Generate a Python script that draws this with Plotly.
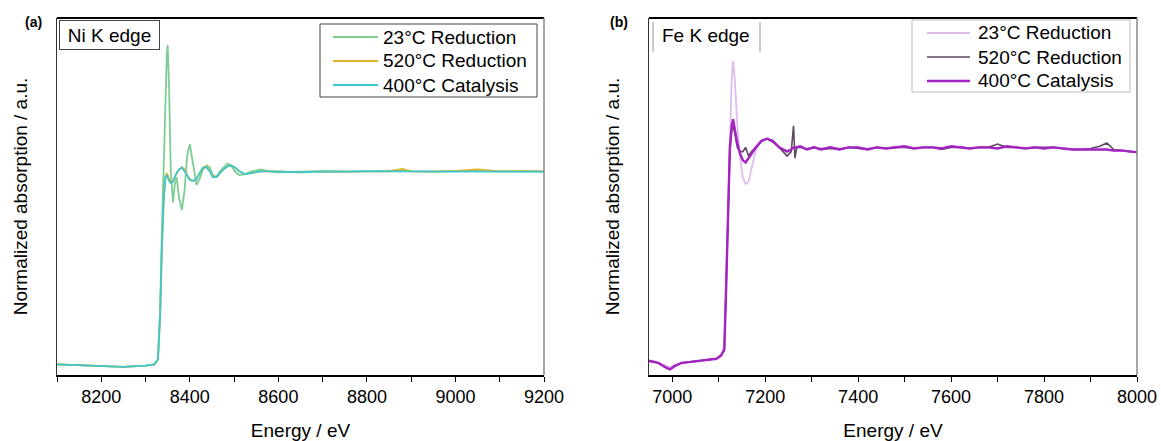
import plotly.graph_objects as go

# ---------------- Data ----------------
ni_energy = [8100, 8150, 8200, 8250, 8300, 8320, 8328, 8333, 8337, 8341, 8345, 8348, 8350,
             8353, 8357, 8362, 8366, 8370, 8376, 8382, 8388, 8394, 8400, 8407, 8415, 8422,
             8430, 8438, 8445, 8452, 8460, 8468, 8476, 8485, 8493, 8502, 8512, 8525, 8540,
             8560, 8580, 8600, 8650, 8700, 8750, 8800, 8850, 8880, 8900, 8950, 9000, 9050,
             9100, 9150, 9200]
ni_23 = [0.005, 0.0, -0.005, -0.008, -0.002, 0.005, 0.03, 0.3, 0.7, 1.05, 1.4, 1.6, 1.65,
         1.45, 1.0, 0.84, 0.93, 0.97, 0.86, 0.80, 0.90, 1.08, 1.14, 1.05, 0.93, 0.96,
         1.01, 1.03, 1.02, 0.98, 0.97, 1.0, 1.02, 1.04, 1.03, 1.0, 0.98, 0.985, 1.0,
         1.01, 1.0, 0.995, 0.998, 1.0, 0.998, 1.0, 1.0, 1.004, 1.0, 0.998, 1.0, 1.004,
         1.0, 1.0, 0.998]
ni_520 = [0.005, 0.0, -0.005, -0.008, -0.002, 0.005, 0.03, 0.25, 0.6, 0.85, 0.97, 0.99, 0.98,
          0.96, 0.95, 0.95, 0.97, 0.99, 1.01, 1.02, 1.01, 0.98, 0.96, 0.95, 0.96, 0.99,
          1.02, 1.025, 1.0, 0.975, 0.97, 0.99, 1.01, 1.025, 1.03, 1.02, 1.0, 0.985, 0.99,
          1.0, 1.0, 1.0, 0.995, 1.0, 0.998, 1.0, 1.0, 1.012, 1.0, 0.998, 1.002, 1.01,
          1.0, 1.002, 1.0]
ni_400 = [0.005, 0.0, -0.005, -0.008, -0.002, 0.005, 0.03, 0.26, 0.62, 0.86, 0.97, 0.98, 0.97,
          0.95, 0.94, 0.945, 0.97, 0.99, 1.01, 1.02, 1.0, 0.975, 0.955, 0.95, 0.96, 0.99,
          1.02, 1.02, 1.0, 0.97, 0.97, 0.99, 1.01, 1.025, 1.03, 1.02, 1.0, 0.985, 0.99,
          1.0, 1.0, 0.998, 0.995, 1.0, 0.998, 1.0, 1.0, 1.0, 1.0, 0.998, 1.0, 1.0,
          1.0, 1.0, 0.998]

fe_energy = [6950, 6970, 6985, 6995, 7005, 7020, 7040, 7060, 7080, 7095, 7105, 7112, 7116,
             7120, 7124, 7128, 7131, 7135, 7140, 7146, 7152, 7158, 7164, 7170, 7180, 7192,
             7204, 7216, 7230, 7247, 7256, 7261, 7264, 7268, 7275, 7290, 7305, 7320, 7340,
             7360, 7380, 7400, 7420, 7440, 7460, 7480, 7500, 7520, 7540, 7560, 7580, 7600,
             7620, 7640, 7660, 7680, 7700, 7720, 7740, 7760, 7780, 7800, 7820, 7840, 7860,
             7880, 7900, 7920, 7935, 7950, 7970, 7985, 8000]
fe_23 = [0.005, 0.0, -0.01, -0.02, -0.01, 0.0, 0.005, 0.01, 0.012, 0.015, 0.03, 0.08, 0.4,
         0.8, 1.1, 1.33, 1.40, 1.3, 1.1, 0.95, 0.86, 0.83, 0.84, 0.9, 0.99, 1.03,
         1.04, 1.03, 1.0, 0.985, 0.99, 1.0, 1.0, 1.0, 1.005, 0.995, 1.0, 0.995, 1.0,
         0.995, 1.0, 1.0, 0.995, 1.0, 0.997, 1.0, 1.002, 0.997, 1.0, 1.0, 0.998, 1.002,
         1.0, 0.997, 1.0, 1.0, 0.998, 1.002, 1.0, 0.997, 1.0, 0.998, 1.0, 0.996, 0.995,
         0.99, 0.99, 0.99, 0.99, 0.985, 0.985, 0.98, 0.978]
fe_520 = [0.01, 0.0, -0.02, -0.03, -0.015, 0.0, 0.005, 0.01, 0.015, 0.02, 0.035, 0.06, 0.35,
          0.74, 0.98, 1.08, 1.1, 1.06, 1.0, 0.98, 0.98, 1.0, 0.96, 0.98, 1.0, 1.03,
          1.04, 1.025, 1.0, 0.96, 0.98, 1.1, 0.95, 1.0, 1.0, 0.99, 1.0, 0.99, 0.995,
          0.99, 1.0, 0.995, 0.99, 1.0, 0.995, 1.0, 1.0, 0.995, 1.0, 1.0, 0.99, 1.0,
          1.0, 0.995, 1.0, 1.0, 1.015, 1.0, 1.0, 0.995, 1.0, 1.0, 1.0, 0.995, 0.99,
          0.99, 0.995, 1.005, 1.02, 0.99, 0.985, 0.98, 0.978]
fe_400 = [0.01, 0.0, -0.02, -0.03, -0.015, 0.0, 0.005, 0.01, 0.015, 0.02, 0.035, 0.06, 0.35,
          0.75, 1.0, 1.1, 1.13, 1.08, 1.02, 0.97, 0.94, 0.93, 0.95, 0.97, 1.0, 1.03,
          1.04, 1.03, 1.0, 0.98, 0.99, 1.0, 1.0, 1.0, 1.005, 0.99, 1.0, 0.99, 1.0,
          0.99, 1.0, 1.0, 0.99, 1.0, 0.995, 1.0, 1.005, 0.995, 1.0, 1.0, 0.995, 1.005,
          1.0, 0.995, 1.0, 1.0, 0.995, 1.005, 1.0, 0.995, 1.0, 0.995, 1.0, 0.995, 0.99,
          0.99, 0.99, 0.99, 0.99, 0.985, 0.985, 0.98, 0.978]

series_names = ["23°C Reduction", "520°C Reduction", "400°C Catalysis"]
ni_colors = ["rgb(125,205,145)", "rgb(225,180,40)", "rgb(60,200,210)"]
fe_colors = ["rgb(222,188,238)", "rgb(95,72,100)", "rgb(165,35,195)"]
ni_widths = [1.8, 1.8, 1.8]
fe_widths = [1.8, 1.6, 2.4]

W, H = 1161, 441
FONT = "Liberation Sans, Arial, sans-serif"

def px_x(p):
    return p / W

def px_y(p):
    return (H - p) / H

fig = go.Figure()

for name, ys, col, w in zip(series_names, [ni_23, ni_520, ni_400], ni_colors, ni_widths):
    fig.add_trace(go.Scatter(x=ni_energy, y=ys, mode="lines", name=name, showlegend=False,
                             line=dict(color=col, width=w), xaxis="x", yaxis="y"))
for name, ys, col, w in zip(series_names, [fe_23, fe_520, fe_400], fe_colors, fe_widths):
    fig.add_trace(go.Scatter(x=fe_energy, y=ys, mode="lines", name=name, showlegend=False,
                             line=dict(color=col, width=w), xaxis="x2", yaxis="y2"))

ydom = [px_y(375), px_y(18)]

xcommon = dict(showline=True, linecolor="black", linewidth=1.5, ticks="outside",
               ticklen=5, tickcolor="black", showgrid=False, zeroline=False,
               tickfont=dict(family=FONT, size=18, color="black"),
               title_font=dict(family=FONT, size=19, color="black"),
               automargin=False)
ycommon = dict(showline=True, linecolor="#333", linewidth=1.2, showticklabels=False,
               ticks="", showgrid=False, zeroline=False, automargin=False,
               title_font=dict(family=FONT, size=19, color="black"))

fig.update_layout(
    width=W, height=H,
    margin=dict(l=0, r=0, t=0, b=0),
    paper_bgcolor="white", plot_bgcolor="white",
    font=dict(family=FONT, color="black"),
    showlegend=False,
    xaxis=dict(domain=[px_x(57), px_x(544)], range=[8100, 9200], tick0=8200, dtick=200,
               minor=dict(dtick=100, tick0=8100, ticks="outside", ticklen=5, tickcolor="black"),
               title=dict(text="Energy / eV", standoff=17), anchor="y", **xcommon),
    yaxis=dict(domain=ydom, range=[-0.05, 1.79], anchor="x",
               title=dict(text="Normalized absorption / a.u.", standoff=23), **ycommon),
    xaxis2=dict(domain=[px_x(649), px_x(1137)], range=[6950, 8000], tick0=7000, dtick=200,
                minor=dict(dtick=100, tick0=7000, ticks="outside", ticklen=5, tickcolor="black"),
                title=dict(text="Energy / eV", standoff=17), anchor="y2", **xcommon),
    yaxis2=dict(domain=ydom, range=[-0.056, 1.60], anchor="x2",
                title=dict(text="Normalized absorption / a.u.", standoff=23), **ycommon),
)

# frame: thick top, grey right
for xr, yr in [("x domain", "y domain"), ("x2 domain", "y2 domain")]:
    fig.add_shape(type="line", xref=xr, yref=yr, x0=0, x1=1, y0=1, y1=1,
                  line=dict(color="black", width=2.2))
    fig.add_shape(type="line", xref=xr, yref=yr, x0=1, x1=1, y0=0, y1=1,
                  line=dict(color="#888", width=1.5))

# legends (box, sample lines, text) built from the series lists
legend_specs = [
    dict(box=(320, 24, 537, 97), line=(333, 378), text_x=381, rows=[37, 61, 85],
         colors=ni_colors, widths=ni_widths, border="#444"),
    dict(box=(912, 20, 1130, 92), line=(927, 970), text_x=976, rows=[33, 57, 81],
         colors=fe_colors, widths=fe_widths, border="#bbb"),
]
for spec in legend_specs:
    x0, y0, x1, y1 = spec["box"]
    fig.add_shape(type="rect", xref="paper", yref="paper", x0=px_x(x0), x1=px_x(x1),
                  y0=px_y(y1), y1=px_y(y0), line=dict(color=spec["border"], width=1),
                  fillcolor="white", layer="above")
    for name, col, w, ry in zip(series_names, spec["colors"], spec["widths"], spec["rows"]):
        fig.add_shape(type="line", xref="paper", yref="paper", x0=px_x(spec["line"][0]),
                      x1=px_x(spec["line"][1]), y0=px_y(ry), y1=px_y(ry),
                      line=dict(color=col, width=w), layer="above")
        fig.add_annotation(xref="paper", yref="paper", x=px_x(spec["text_x"]), y=px_y(ry),
                           xanchor="left", yanchor="middle", text=name, showarrow=False,
                           font=dict(family=FONT, size=19, color="black"))

# Fe K edge label side lines
for xp in [653, 760]:
    fig.add_shape(type="line", xref="paper", yref="paper", x0=px_x(xp), x1=px_x(xp),
                  y0=px_y(52), y1=px_y(22), line=dict(color="#999", width=1))

fig.add_annotation(xref="paper", yref="paper", x=px_x(59), y=px_y(20), xanchor="left",
                   yanchor="top", text="Ni K edge", showarrow=False, width=97, height=26,
                   bordercolor="#444", borderwidth=1, borderpad=1, bgcolor="white",
                   font=dict(family=FONT, size=19, color="black"))
fig.add_annotation(xref="paper", yref="paper", x=px_x(706), y=px_y(36), xanchor="center",
                   yanchor="middle", text="Fe K edge", showarrow=False,
                   font=dict(family=FONT, size=19, color="black"))
fig.add_annotation(xref="paper", yref="paper", x=px_x(33), y=px_y(22), xanchor="center",
                   yanchor="middle", text="<b>(a)</b>", showarrow=False,
                   font=dict(family=FONT, size=14, color="black"))
fig.add_annotation(xref="paper", yref="paper", x=px_x(619), y=px_y(22), xanchor="center",
                   yanchor="middle", text="<b>(b)</b>", showarrow=False,
                   font=dict(family=FONT, size=14, color="black"))

fig.write_html("out.html", config={"displayModeBar": False},
               post_script="document.body.style.margin='0';")
